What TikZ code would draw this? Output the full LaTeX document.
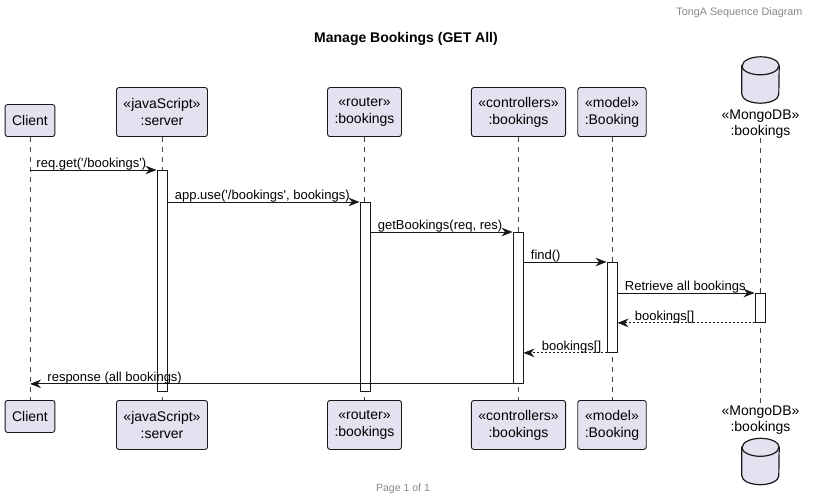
\documentclass[tikz,border=0pt]{standalone}
\usepackage{fontspec}
\setmainfont{Liberation Sans}
\usetikzlibrary{arrows.meta}

\definecolor{partfill}{HTML}{E2E2F0}
\definecolor{partline}{HTML}{181818}
\definecolor{notegray}{HTML}{888888}
\newcommand{\sq}{\textquotesingle}

\begin{document}
\begin{tikzpicture}[x=1pt,y=-1pt,
  part/.style={rectangle, rounded corners=2.5pt, draw=partline, fill=partfill, line width=0.9pt, align=center, inner xsep=7pt, inner ysep=0pt, minimum height=32pt, font=\fontsize{14}{17}\selectfont},
  tall/.style={minimum height=49pt},
  dbbox/.style={rectangle, minimum width=37pt, minimum height=46pt, inner sep=0pt},
  dbline/.style={draw=partline, fill=partfill, line width=1.2pt},
  dbtext/.style={align=center, inner sep=0pt, font=\fontsize{14}{16}\selectfont},
  life/.style={draw=partline!80, line width=0.8pt, dash pattern=on 5pt off 5pt},
  act/.style={rectangle, draw=partline, fill=white, line width=0.9pt, minimum width=10pt, inner sep=0pt, anchor=north},
  msg/.style={draw=partline, line width=0.9pt, -{Stealth[length=11pt,width=8.5pt,inset=3.5pt]}},
  reply/.style={msg, dash pattern=on 2pt off 2pt},
  lbl/.style={anchor=base west, inner sep=0pt, yshift=2.8pt, font=\fontsize{13}{15}\selectfont}
]
\useasboundingbox (0,0) rectangle (813,502);

% header and title
\node[anchor=east, text=notegray, font=\fontsize{10.8}{12}\selectfont] (hdr) at (806,12.5) {TongA Sequence Diagram};
\node[font=\bfseries\fontsize{14}{16}\selectfont] (ttl) at (406,38.5) {Manage Bookings (GET All)};

% participants (top)
\node[part, anchor=south] (cliT) at (30,137) {Client};
\node[part, tall, anchor=south] (srvT) at (162,137) {«javaScript»\\:server};
\node[part, tall, anchor=south] (rouT) at (364.5,137) {«router»\\:bookings};
\node[part, tall, anchor=south] (ctlT) at (518.5,137) {«controllers»\\:bookings};
\node[part, tall, anchor=south] (modT) at (612,137) {«model»\\:Booking};
\node[dbbox] (dbT) at (760.5,80) {};
\node[dbtext, anchor=north] (dbTl) at (760.5,109.5) {«MongoDB»\\:bookings};

% participants (bottom)
\node[part, anchor=north] (cliB) at (30,400) {Client};
\node[part, tall, anchor=north] (srvB) at (162,400) {«javaScript»\\:server};
\node[part, tall, anchor=north] (rouB) at (364.5,400) {«router»\\:bookings};
\node[part, tall, anchor=north] (ctlB) at (518.5,400) {«controllers»\\:bookings};
\node[part, tall, anchor=north] (modB) at (612,400) {«model»\\:Booking};
\node[dbtext, anchor=north] (dbBl) at (760.5,406) {«MongoDB»\\:bookings};
\node[dbbox] (dbB) at (760.5,461.5) {};

% database cylinders
\foreach \d in {dbT,dbB} {
  \path[dbline] ([yshift=-9pt]\d.north west) -- ([yshift=9pt]\d.south west)
    arc[start angle=180, end angle=360, x radius=18.5pt, y radius=9pt]
    -- ([yshift=-9pt]\d.north east)
    arc[start angle=0, end angle=180, x radius=18.5pt, y radius=9pt] -- cycle;
  \draw[dbline, fill=none] ([yshift=-9pt]\d.north west)
    arc[start angle=180, end angle=360, x radius=18.5pt, y radius=9pt];
}

% lifelines
\draw[life] (cliT.south) -- (cliB.north);
\draw[life] (srvT.south) -- (srvB.north);
\draw[life] (rouT.south) -- (rouB.north);
\draw[life] (ctlT.south) -- (ctlB.north);
\draw[life] (modT.south) -- (modB.north);
\draw[life] (dbTl.south) -- (dbBl.north);

% activations
\node[act, minimum height=221pt] (actS) at (162,170) {};
\node[act, minimum height=189pt] (actR) at (365,202) {};
\node[act, minimum height=151pt] (actC) at (518,232) {};
\node[act, minimum height=90pt] (actM) at (612,262) {};
\node[act, minimum height=29pt] (actD) at (760,293) {};

% messages
\draw[msg] (cliT.south |- actS.north) -- node[lbl, pos=0, xshift=6pt] {req.get(\sq/bookings\sq)} (actS.north west);
\draw[msg] (actS.east |- actR.north) -- node[lbl, pos=0, xshift=7pt] {app.use(\sq/bookings\sq, bookings)} (actR.north west);
\draw[msg] (actR.east |- actC.north) -- node[lbl, pos=0, xshift=7pt] {getBookings(req, res)} (actC.north west);
\draw[msg] (actC.east |- actM.north) -- node[lbl, pos=0, xshift=7pt] {find()} (actM.north west);
\draw[msg] (actM.east |- actD.north) -- node[lbl, pos=0, xshift=7pt] {Retrieve all bookings} (actD.north west);
\draw[reply] (actD.south west) -- node[lbl, pos=1, xshift=17pt] {bookings[]} (actM.east |- actD.south);
\draw[reply] (actM.south west) -- node[lbl, pos=1, xshift=18pt] {bookings[]} (actC.east |- actM.south);
\draw[msg] (actC.south west) -- node[lbl, pos=1, xshift=17pt] {response (all bookings)} (cliT.south |- actC.south);

% footer
\node[text=notegray, font=\fontsize{10.5}{12}\selectfont] (ftr) at (403,489) {Page 1 of 1};
\end{tikzpicture}
\end{document}
